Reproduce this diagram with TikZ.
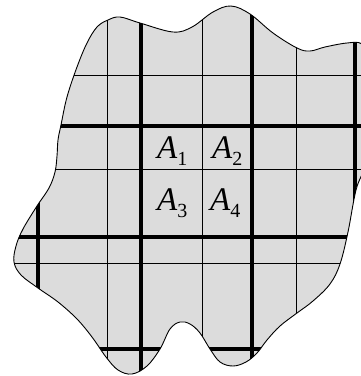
\documentclass[tikz,border=0pt]{standalone}
\usepackage{fontspec}
\setmainfont{Liberation Serif}
\usepackage{tikz}
\definecolor{blobgray}{RGB}{220,220,220}
\tikzstyle{thinline} = [line width=0.9pt]
\tikzstyle{thickline} = [line width=4pt]
\tikzstyle{outline} = [line width=0.9pt]
\tikzstyle{cell} = [draw=none, inner sep=0, anchor=base west, font=\fontsize{33}{33}\selectfont]
\newcommand{\cellname}[1]{\textit{A}\raisebox{-7pt}{\fontsize{20}{20}\selectfont #1}}
\def\blobshape{plot [smooth cycle, tension=0.6] coordinates {
  (58,140) (61,125) (67,97) (77,67) (87,43) (97,27) (108,20) (120,17) (140,23) (173,32)
  (192,27) (213,12) (231,6) (250,14) (273,33) (297,48) (310,51) (325,47) (347,43) (362,44)
  (372,60) (372,120) (365,165) (356,190) (348,232) (340,264) (330,284) (313,301) (297,313)
  (280,326) (267,340) (257,353) (246,362) (233,366) (220,362) (210,349) (200,333) (190,324)
  (180,322) (170,329) (160,349) (147,366) (132,374) (118,370) (106,357) (92,337) (77,319)
  (58,302) (38,288) (21,275) (14,262) (16,246) (23,229) (37,206) (49,188) (55,172) (57,156)}}

\begin{document}
\begin{tikzpicture}[x=1pt, y=-1pt]
\useasboundingbox (0,0) rectangle (360,376);
\fill [blobgray] \blobshape;
\begin{scope}
\clip \blobshape;
\draw [thinline] (0,75) -- (380,75);
\draw [thinline] (0,169) -- (380,169);
\draw [thinline] (0,263) -- (380,263);
\draw [thinline] (107,0) -- (107,380);
\draw [thinline] (202,0) -- (202,380);
\draw [thinline] (296,0) -- (296,380);
\draw [thickline] (0,126) -- (380,126);
\draw [thickline] (0,237) -- (380,237);
\draw [thickline] (0,349) -- (380,349);
\draw [thickline] (38,0) -- (38,380);
\draw [thickline] (141,0) -- (141,380);
\draw [thickline] (252,0) -- (252,380);
\draw [thickline] (355,0) -- (355,380);
\end{scope}
\draw [outline] \blobshape;
\node [cell] (a1) at (157,158) {\cellname{1}};
\node [cell] (a2) at (212,158) {\cellname{2}};
\node [cell] (a3) at (157,210) {\cellname{3}};
\node [cell] (a4) at (210,210) {\cellname{4}};
\end{tikzpicture}
\end{document}
